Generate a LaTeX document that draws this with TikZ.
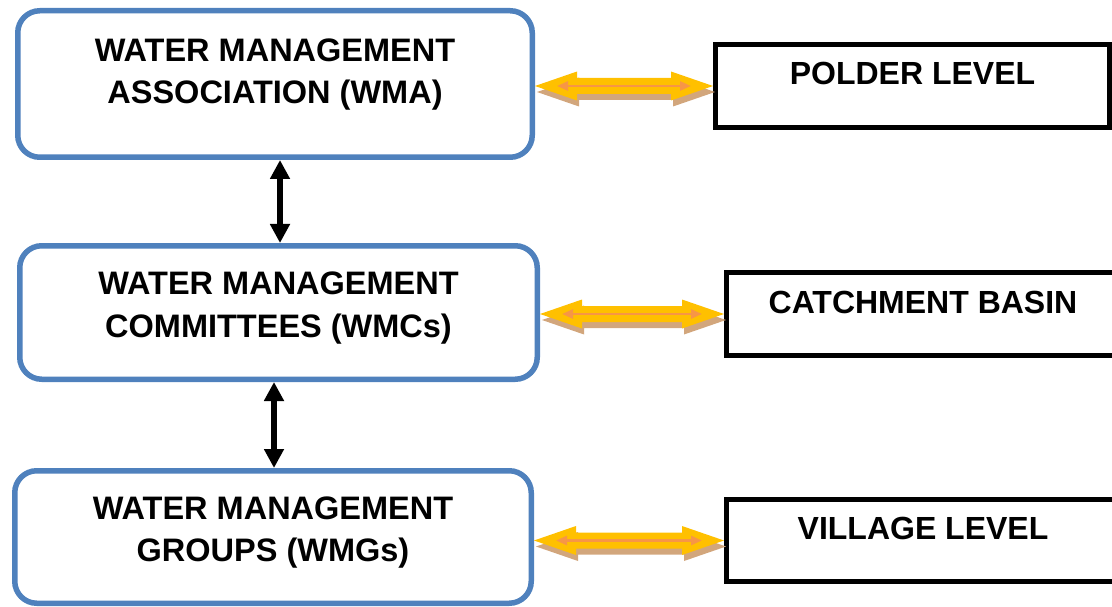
\documentclass[tikz,border=0pt]{standalone}
\usepackage{fontspec}
\setmainfont{Liberation Sans}
\usetikzlibrary{arrows.meta, calc}
\definecolor{wmblue}{RGB}{79, 129, 189}
\definecolor{amber}{RGB}{255, 192, 0}
\definecolor{orangeline}{RGB}{247, 150, 70}
\definecolor{tanshadow}{RGB}{210, 166, 124}
\tikzset{
  wmbox/.style    = {rectangle, rounded corners=22pt, draw=wmblue, line width=5.5pt, fill=white, align=center, text height=66pt, font=\bfseries\fontsize{32.5}{42.5}\selectfont},
  scopebox/.style = {rectangle, draw=black, line width=5pt, fill=white, text height=23pt, font=\bfseries\fontsize{32}{42.5}\selectfont},
  vflow/.style    = {{Triangle[width=19pt,length=19pt]}-{Triangle[width=19pt,length=19pt]}, line width=5.5pt, black},
  innerflow/.style= {{Triangle[width=9pt,length=11pt]}-{Triangle[width=9pt,length=11pt]}, line width=2.5pt, orangeline, shorten <=22pt, shorten >=22pt},
}
% block arrow between two points (left, right)
\newcommand{\blockarrow}[3]{%
  \fill[#3] (#1) -- ($(#1)+(42,-14.5)$) -- ($(#1)+(42,-8)$) -- ($(#2)+(-42,-8)$) -- ($(#2)+(-42,-14.5)$) -- (#2)
    -- ($(#2)+(-42,14.5)$) -- ($(#2)+(-42,8)$) -- ($(#1)+(42,8)$) -- ($(#1)+(42,14.5)$) -- cycle;}
\newcommand{\linkarrow}[2]{%
  \coordinate (#1-l) at (#1.east |- #2.west);
  \coordinate (#1-r) at (#2.west);
  \coordinate (#1-ls) at ($(#1-l)+(2,6)$);
  \coordinate (#1-rs) at ($(#1-r)+(2,6)$);
  \blockarrow{#1-ls}{#1-rs}{tanshadow}
  \blockarrow{#1-l}{#1-r}{amber}
  \draw[innerflow] (#1-l) -- (#1-r);}

\begin{document}
\begin{tikzpicture}[x=1pt, y=-1pt]
\useasboundingbox (0,0) rectangle (1112,607);

% === left column: organisations ===
\node[wmbox, minimum width=514.5pt, minimum height=146.5pt, text depth=26pt] (wma) at (275,84)
  {WATER MANAGEMENT\\ASSOCIATION (WMA)};
\node[wmbox, minimum width=517.5pt, minimum height=133.5pt, text depth=17pt] (wmc) at (278.5,312.5)
  {WATER MANAGEMENT\\COMMITTEES (WMCs)};
\node[wmbox, minimum width=516.5pt, minimum height=132.5pt, text depth=17pt] (wmg) at (273,537)
  {WATER MANAGEMENT\\GROUPS (WMGs)};

% === right column: levels ===
\node[scopebox, minimum width=394pt, minimum height=83pt, text depth=26pt] (polder) at (912.5,86) {POLDER LEVEL};
\node[scopebox, minimum width=393pt, minimum height=83pt, text depth=24pt] (basin) at (923,314) {CATCHMENT BASIN};
\node[scopebox, minimum width=393pt, minimum height=82pt, text depth=25pt] (village) at (923,540.5) {VILLAGE LEVEL};

% vertical links
\draw[vflow] ([xshift=5pt]wma.south) -- ([xshift=5pt]wma.south |- wmc.north);
\draw[vflow] ([xshift=-4.5pt]wmc.south) -- ([xshift=-4.5pt]wmc.south |- wmg.north);

% horizontal block arrows
\linkarrow{wma}{polder}
\linkarrow{wmc}{basin}
\linkarrow{wmg}{village}

\end{tikzpicture}
\end{document}
